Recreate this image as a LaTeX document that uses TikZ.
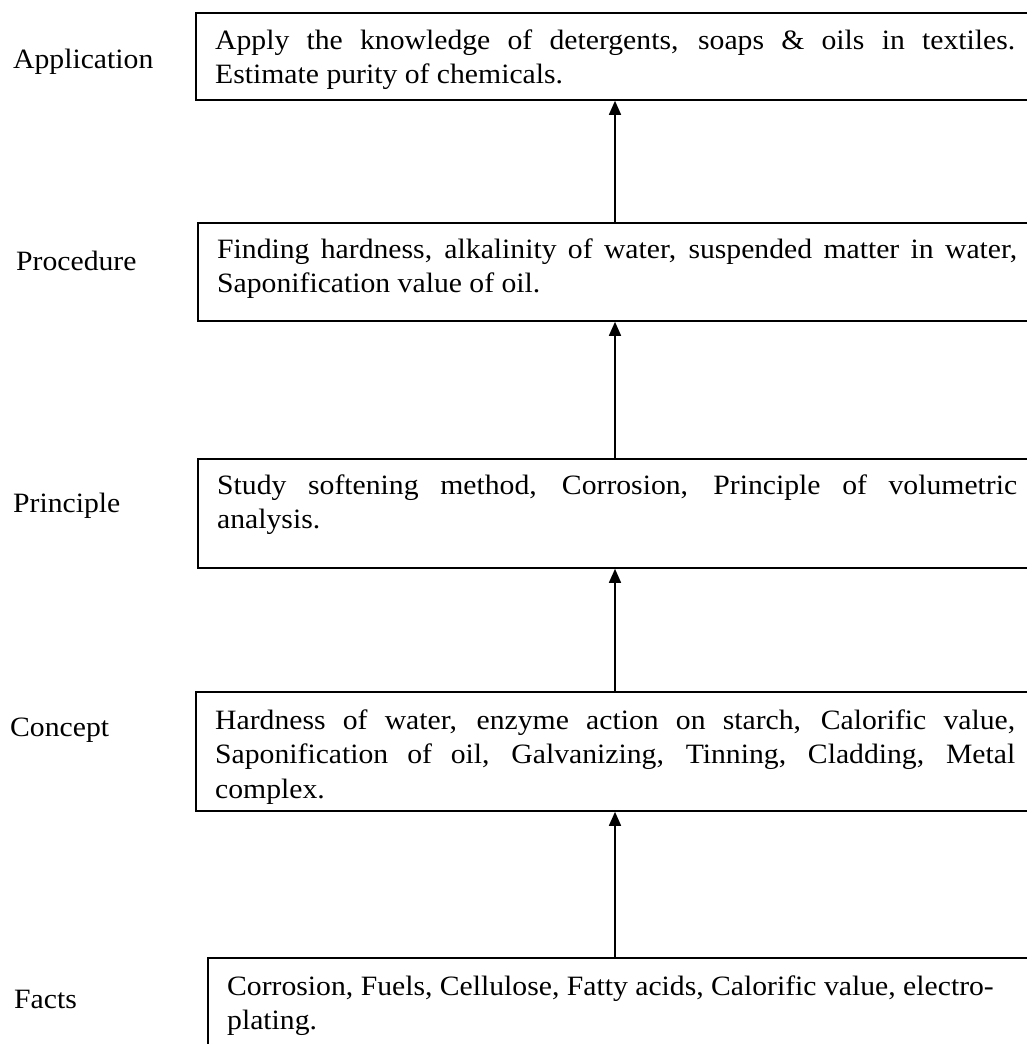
\documentclass[tikz,border=0pt]{standalone}
\usepackage{fontspec}
\setmainfont{Liberation Serif}[FakeStretch=1.06]
\usetikzlibrary{arrows.meta}
\begin{document}
\begin{tikzpicture}[x=1pt,y=-1pt,
  frame/.style={draw, line width=1.8pt, rectangle, anchor=north west,
                inner sep=0pt, minimum width=900pt},
  body/.style={anchor=base west, inner sep=0pt, text width=800pt,
               align=justify, font=\fontsize{28}{34.5}\selectfont},
  level/.style={anchor=base west, inner sep=0pt, font=\fontsize{28}{34.5}\selectfont},
  up/.style={-{Triangle[length=14pt,width=12pt]}, line width=1.5pt}]
\useasboundingbox (0,0) rectangle (1027,1044);
\clip (0,0) rectangle (1027,1044);

% column of the connecting arrows
\coordinate (ax) at (615,0);

% level names
\node[level] (lapp)  at (13,68)   {Application};
\node[level] (lproc) at (16,270)  {Procedure};
\node[level] (lprin) at (13,512)  {Principle};
\node[level] (lcon)  at (10,736)  {Concept};
\node[level] (lfact) at (14,1008) {Facts};

% boxes (right and lower edges run off the page)
\node[frame, minimum height=87pt]  (app)  at (195,12)  {};
\node[frame, minimum height=98pt]  (proc) at (197,222) {};
\node[frame, minimum height=109pt] (prin) at (197,458) {};
\node[frame, minimum height=119pt] (con)  at (195,691) {};
\node[frame, minimum height=120pt] (fact) at (207,957) {};

% box texts
\node[body] (tapp) at (215,49)
  {Apply the knowledge of detergents, soaps \& oils in textiles.\linebreak
   Estimate purity of chemicals.};
\node[body] (tproc) at (217,258)
  {Finding hardness, alkalinity of water, suspended matter in water,\linebreak
   Saponification value of oil.};
\node[body] (tprin) at (217,494)
  {Study softening method, Corrosion, Principle of volumetric\linebreak
   analysis.};
\node[body] (tcon) at (215,729)
  {Hardness of water, enzyme action on starch, Calorific value,\linebreak
   Saponification of oil, Galvanizing, Tinning, Cladding, Metal\linebreak
   complex.};
\node[body] (tfact) at (227,995)
  {Corrosion, Fuels, Cellulose, Fatty acids, Calorific value, electro-\newline
   plating.};

% upward flow between levels
\draw[up] (fact.north -| ax) -- (con.south -| ax);
\draw[up] (con.north -| ax)  -- (prin.south -| ax);
\draw[up] (prin.north -| ax) -- (proc.south -| ax);
\draw[up] (proc.north -| ax) -- (app.south -| ax);
\end{tikzpicture}
\end{document}
